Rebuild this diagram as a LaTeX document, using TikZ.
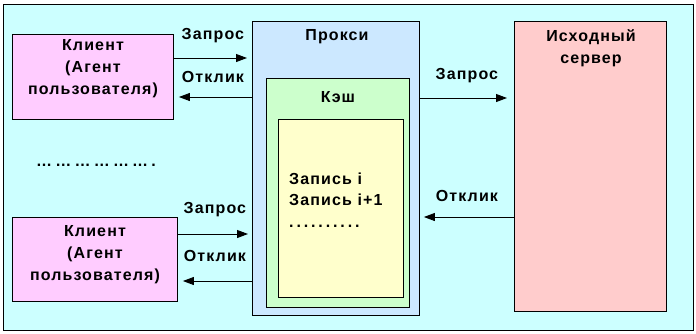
\documentclass[tikz,border=0pt]{standalone}
\usepackage{fontspec}
\setmainfont[LetterSpace=7]{Liberation Sans}
\usetikzlibrary{arrows.meta}
\definecolor{bgc}{HTML}{CCFFFF}
\definecolor{clc}{HTML}{FFCCFF}
\definecolor{prc}{HTML}{CCE8FF}
\definecolor{cac}{HTML}{CCFFCC}
\definecolor{enc}{HTML}{FFFFCC}
\definecolor{svc}{HTML}{FFCCCC}
\newcommand\myell{…}
\begin{document}
\begin{tikzpicture}[x=1pt,y=-1pt,
  box/.style={draw=black,line width=0.9pt,anchor=north west,inner sep=0pt},
  lbl/.style={font=\bfseries\fontsize{16}{22}\selectfont,inner sep=0pt,align=center},
  lbll/.style={font=\bfseries\fontsize{16}{21.5}\selectfont,inner sep=0pt,align=left,anchor=west},
  arr/.style={line width=0.9pt,-{Triangle[length=11pt,width=8pt]}}]
\useasboundingbox (0,0) rectangle (696,333);
\node[box,fill=bgc,minimum width=690,minimum height=326] (frame) at (3,4) {};
\node[box,fill=clc,minimum width=161,minimum height=85] (c1) at (12,34) {};
\node[box,fill=clc,minimum width=165,minimum height=84] (c2) at (12,217) {};
\node[box,fill=prc,minimum width=167,minimum height=294] (proxy) at (252,21) {};
\node[box,fill=cac,minimum width=143,minimum height=229] (cache) at (266,78) {};
\node[box,fill=enc,minimum width=125,minimum height=178] (entry) at (278,119) {};
\node[box,fill=svc,minimum width=152,minimum height=290] (server) at (514,21) {};

\node[lbl] (c1t) at (93,69) {Клиент\\(Агент\\пользователя)};
\node[lbl] (c2t) at (95,255) {Клиент\\(Агент\\пользователя)};
\node[lbl] (prt) at (337,37) {Прокси};
\node[lbl] (cat) at (338,97) {Кэш};
\node[lbl] (svt) at (591,48) {Исходный\\сервер};
\node[lbll] (ent) at (289,200) {Запись i\\Запись i+1\\{\addfontfeature{LetterSpace=18}..........}};
\node[lbl,anchor=west] (dots) at (36,165) {\addfontfeature{LetterSpace=20}\myell\myell\myell\myell\myell\myell.};

\draw[arr,shorten >=5pt] (c1.east|-0,58) -- (proxy.west|-0,58) node[lbl,midway,above=15pt] (q1) {Запрос};
\draw[arr,shorten >=5pt] (proxy.west|-0,97) -- (c1.east|-0,97) node[lbl,midway,above=14pt] (r1) {Отклик};
\draw[arr,shorten >=4pt] (c2.east|-0,234) -- (proxy.west|-0,234) node[lbl,midway,above=17pt] (q2) {Запрос};
\draw[arr,shorten >=5pt] (proxy.west|-0,281) -- (c2.east|-0,281) node[lbl,midway,above=19pt] (r2) {Отклик};
\draw[arr,shorten >=7pt] (proxy.east|-0,98) -- (server.west|-0,98) node[lbl,midway,above=15pt] (q3) {Запрос};
\draw[arr,shorten >=4pt] (server.west|-0,217) -- (proxy.east|-0,217) node[lbl,midway,above=15pt] (r3) {Отклик};
\end{tikzpicture}
\end{document}
